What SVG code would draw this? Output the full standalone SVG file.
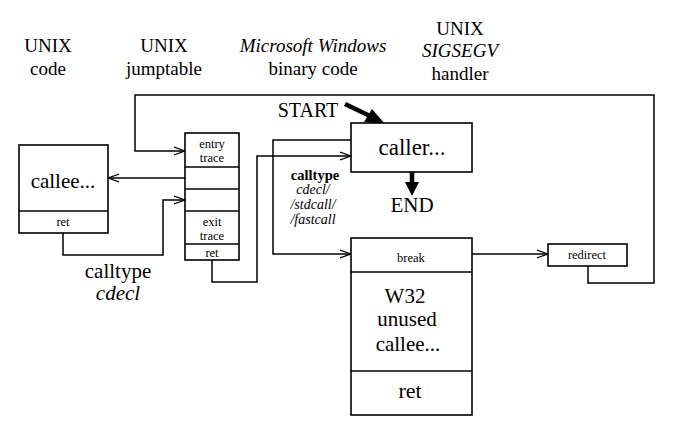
<svg xmlns="http://www.w3.org/2000/svg" width="674" height="435" viewBox="0 0 674 435">
<defs>
<style>
.t{font-family:'Liberation Serif','DejaVu Serif',serif;fill:#000;text-anchor:middle}
.h{font-size:19px}
.i{font-style:italic}
.s{font-size:12.5px}
.box{fill:#fff;stroke:#000;stroke-width:1.6}
.ln{fill:none;stroke:#000;stroke-width:1.5}
.arr{marker-end:url(#open)}
</style>
<marker id="open" markerWidth="12" markerHeight="10" refX="11" refY="5" orient="auto" markerUnits="userSpaceOnUse">
<path d="M0,1 L11,5 L0,9" fill="none" stroke="#000" stroke-width="1.3"/>
</marker>
</defs>

<g id="headers" class="t" font-family="Liberation Serif, DejaVu Serif, serif">
<text class="h" x="48" y="52">UNIX</text>
<text class="h" x="48" y="75">code</text>
<text class="h" x="164" y="52">UNIX</text>
<text class="h" x="164" y="75">jumptable</text>
<text class="h i" x="313" y="52" font-size="18">Microsoft Windows</text>
<text class="h" x="313" y="75">binary code</text>
<text class="h" x="460" y="35">UNIX</text>
<text class="h i" x="460" y="57">SIGSEGV</text>
<text class="h" x="460" y="80">handler</text>
</g>

<g id="connectors">
<polyline class="ln arr" points="588,266 588,283 654,283 654,95 135,95 135,151 185,151"/>
<line class="ln arr" x1="185" y1="178" x2="108" y2="178"/>
<polyline class="ln arr" points="63,233 63,255 163,255 163,200 185,200"/>
<polyline class="ln arr" points="212,260 212,282 257,282 257,156 351,156"/>
<polyline class="ln arr" points="351,140 273,140 273,254 351,254"/>
<line class="ln arr" x1="467" y1="254" x2="548" y2="254"/>
<line x1="345" y1="104" x2="370" y2="116" stroke="#000" stroke-width="4.5"/>
<polygon points="385,124 364,122 372,109" fill="#000"/>
<line x1="412" y1="172" x2="412" y2="184" stroke="#000" stroke-width="4.5"/>
<polygon points="405,182 419,182 412,196" fill="#000"/>
</g>

<g id="callee" class="t" font-family="Liberation Serif, DejaVu Serif, serif">
<rect class="box" x="19" y="145" width="89" height="88"/>
<line class="ln" x1="19" y1="211" x2="108" y2="211"/>
<text x="63" y="188" font-size="21">callee...</text>
<text class="s" x="63" y="226">ret</text>
</g>

<g id="jumptable" class="t" font-family="Liberation Serif, DejaVu Serif, serif">
<rect class="box" x="185" y="133" width="54" height="127"/>
<line class="ln" x1="185" y1="167" x2="239" y2="167"/>
<line class="ln" x1="185" y1="189" x2="239" y2="189"/>
<line class="ln" x1="185" y1="211" x2="239" y2="211"/>
<line class="ln" x1="185" y1="244" x2="239" y2="244"/>
<text class="s" x="212" y="148">entry</text>
<text class="s" x="212" y="162">trace</text>
<text class="s" x="212" y="226">exit</text>
<text class="s" x="212" y="240">trace</text>
<text class="s" x="212" y="257">ret</text>
</g>

<g id="caller" class="t" font-family="Liberation Serif, DejaVu Serif, serif">
<rect class="box" x="351" y="123" width="121" height="49"/>
<text x="412" y="155" font-size="23">caller...</text>
</g>

<g id="start" class="t" font-family="Liberation Serif, DejaVu Serif, serif"><text x="308" y="117" font-size="20">START</text></g>
<g id="end" class="t" font-family="Liberation Serif, DejaVu Serif, serif"><text x="412" y="212" font-size="21">END</text></g>

<g id="calltype-mid" class="t" font-family="Liberation Serif, DejaVu Serif, serif">
<text x="315" y="180" font-size="14.5" font-weight="bold">calltype</text>
<text class="i" x="313" y="194" font-size="14">cdecl/</text>
<text class="i" x="313" y="209" font-size="14">/stdcall/</text>
<text class="i" x="313" y="224" font-size="14">/fastcall</text>
</g>

<g id="calltype-left" class="t" font-family="Liberation Serif, DejaVu Serif, serif">
<text x="118" y="278" font-size="21">calltype</text>
<text class="i" x="118" y="300" font-size="21">cdecl</text>
</g>

<g id="w32" class="t" font-family="Liberation Serif, DejaVu Serif, serif">
<rect class="box" x="351" y="238" width="121" height="177"/>
<line class="ln" x1="351" y1="272" x2="472" y2="272"/>
<line class="ln" x1="351" y1="371" x2="472" y2="371"/>
<text class="s" x="411" y="262">break</text>
<text x="405" y="303" font-size="21">W32</text>
<text x="407" y="326" font-size="21">unused</text>
<text x="408" y="351" font-size="21">callee...</text>
<text x="410" y="398" font-size="22">ret</text>
</g>

<g id="redirect" class="t" font-family="Liberation Serif, DejaVu Serif, serif">
<rect class="box" x="548" y="244" width="79" height="22"/>
<text class="s" x="587" y="259">redirect</text>
</g>
</svg>
